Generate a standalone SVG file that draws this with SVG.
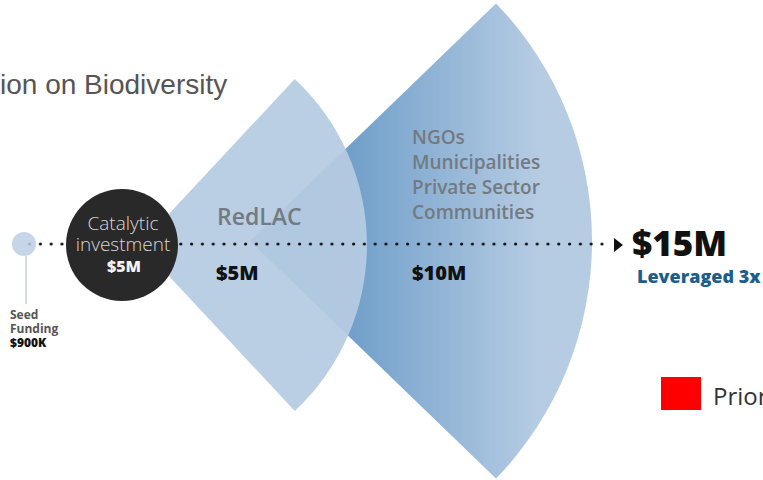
<svg xmlns="http://www.w3.org/2000/svg" width="763" height="480" viewBox="0 0 763 480">
<style>
.lab{font-family:"Open Sans","Liberation Sans",sans-serif;}
.gray{fill:#737a82;font-weight:600;}
.money{fill:#111;font-weight:800;}
.dot{fill:#111;}
</style>
<defs>
<linearGradient id="gBig" gradientUnits="userSpaceOnUse" x1="330" y1="0" x2="540" y2="0">
<stop offset="0" stop-color="#6a9bc7"/>
<stop offset="1" stop-color="#b6cce3"/>
</linearGradient>
<pattern id="dots" patternUnits="userSpaceOnUse" x="28" y="0" width="10.8" height="480">
<circle class="dot" cx="1.6" cy="244" r="1.6"/>
</pattern>
</defs>
<rect width="763" height="480" fill="#ffffff"/>
<text x="0" y="94" font-family="Liberation Sans, Arial, sans-serif" font-size="28" fill="#555">ion on Biodiversity</text>
<g id="sector-big">
<path d="M250 241 L496 3.4 A342 342 0 0 1 496 478.6 Z" fill="url(#gBig)"/>
<text class="lab gray" x="412" y="144" font-size="19">NGOs</text>
<text class="lab gray" x="412" y="169" font-size="19">Municipalities</text>
<text class="lab gray" x="412" y="194" font-size="19">Private Sector</text>
<text class="lab gray" x="412" y="219" font-size="19">Communities</text>
</g>
<g id="sector-redlac">
<path d="M140 245 L294.8 79 A227 227 0 0 1 294.8 411 Z" fill="#b6cbe2" fill-opacity="0.93"/>
<text class="lab gray" x="217" y="225" font-size="23">RedLAC</text>
</g>
<g id="connectors">
<rect x="28" y="240" width="580" height="8" fill="url(#dots)"/>
<polygon points="614,238 623,245 614,252" fill="#111"/>
<line x1="26" y1="256" x2="26" y2="304" stroke="#c9d3dc" stroke-width="1.5"/>
</g>
<g id="seed">
<circle cx="24" cy="244" r="12" fill="#bccfe4" fill-opacity="0.85"/>
<text class="lab" x="10" y="319" font-size="12" font-weight="700" fill="#555">Seed</text>
<text class="lab" x="10" y="333" font-size="12" font-weight="700" fill="#555">Funding</text>
<text class="lab" x="10" y="347" font-size="12" font-weight="800" fill="#111">$900K</text>
</g>
<g id="catalytic">
<circle cx="122" cy="245" r="56" fill="#292929"/>
<text class="lab" x="123" y="230" font-size="19" font-weight="300" fill="#d8d8d8" text-anchor="middle">Catalytic</text>
<text class="lab" x="123" y="251" font-size="19" font-weight="300" fill="#d8d8d8" text-anchor="middle">investment</text>
<text class="lab" x="124" y="272" font-size="16" font-weight="800" fill="#f2f2f2" text-anchor="middle">$5M</text>
</g>
<text class="lab money" x="216" y="280" font-size="20">$5M</text>
<text class="lab money" x="412" y="280" font-size="20">$10M</text>
<g id="result">
<text class="lab money" x="632" y="256" font-size="35" fill="#222">$15M</text>
<text class="lab" x="637" y="283" font-size="18" font-weight="800" fill="#1c5d8c">Leveraged 3x</text>
</g>
<g id="legend">
<rect x="661" y="377" width="40" height="33" fill="#ff0000"/>
<text x="713" y="405" font-family="Open Sans, Liberation Sans, sans-serif" font-size="24" fill="#333">Prior</text>
</g>
</svg>
